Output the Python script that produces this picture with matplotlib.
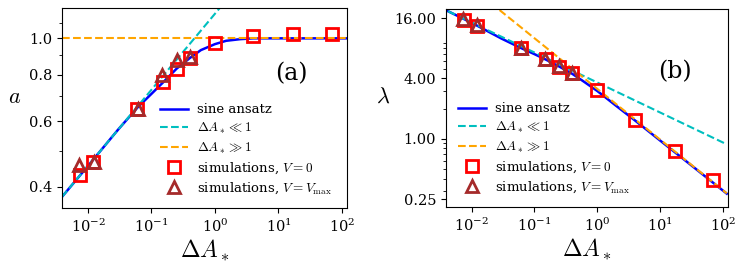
import matplotlib
matplotlib.use('Agg')
import matplotlib.pyplot as plt
from matplotlib.ticker import FixedLocator, NullFormatter, FormatStrFormatter

plt.rcParams['font.family'] = 'serif'
plt.rcParams['font.serif'] = ['DejaVu Serif']
plt.rcParams['mathtext.fontset'] = 'cm'

# simulation points (shared x)
dA_sim = [0.0075, 0.012, 0.06, 0.15, 0.25, 0.40, 1.0, 4.0, 17.0, 70.0]
dA_tri = [0.0073, 0.0123, 0.061, 0.148, 0.25, 0.40]

# panel (a): amplitude a
a_sq = [0.43, 0.467, 0.646, 0.765, 0.827, 0.884, 0.97, 1.014, 1.025, 1.03]
a_tri = [0.459, 0.467, 0.648, 0.797, 0.875, 0.893]
a_sine_x = [0.0039, 0.01, 0.03, 0.06, 0.1, 0.15, 0.25, 0.4, 0.6, 1.0, 1.5, 2.5, 4.0, 10.0, 120.0]
a_sine_y = [0.376, 0.455, 0.57, 0.652, 0.71, 0.76, 0.83, 0.885, 0.93, 0.965, 0.985, 0.995, 1.0, 1.0, 1.0]
a_small_x = [0.0039, 1.19]
a_small_y = [0.376, 1.206]
a_large_x = [0.0039, 120.0]
a_large_y = [1.0, 1.0]

# panel (b): wavelength lambda
lam_sq = [15.4, 13.4, 8.1, 6.2, 5.23, 4.5, 3.05, 1.55, 0.76, 0.385]
lam_tri = [15.6, 13.6, 8.1, 6.3, 5.3, 4.5]
lam_sine_x = [0.0042, 0.01, 0.03, 0.06, 0.1, 0.15, 0.25, 0.4, 0.6, 1.0, 2.0, 4.0, 10.0, 30.0, 115.0]
lam_sine_y = [18.8, 14.4, 10.0, 8.1, 7.0, 6.2, 5.25, 4.45, 3.75, 3.0, 2.13, 1.52, 0.96, 0.555, 0.283]
lam_small_x = [0.0042, 115.0]
lam_small_y = [18.8, 0.88]
lam_large_x = [0.0278, 115.0]
lam_large_y = [19.3, 0.285]

fig = plt.figure(figsize=(7.47, 2.71), dpi=100)
axa = fig.add_axes([0.083, 0.2325, 0.3815, 0.738])
axb = fig.add_axes([0.597, 0.236, 0.3775, 0.731])


def draw(ax, sx, sy, cx, cy, ox, oy, sq, tri):
    ax.plot(sx, sy, '-', color='blue', lw=1.8, label='sine ansatz')
    ax.plot(cx, cy, '--', color='c', lw=1.5, label=r'$\Delta A_* \ll 1$')
    ax.plot(ox, oy, '--', color='orange', lw=1.5, label=r'$\Delta A_* \gg 1$')
    ax.plot(dA_sim, sq, 's', ms=9, mfc='none', mec='red', mew=2,
            label=r'simulations, $V = 0$')
    ax.plot(dA_tri, tri, '^', ms=9, mfc='none', mec='brown', mew=2,
            label=r'simulations, $V = V_{\rm max}$')
    ax.set_xscale('log')
    ax.set_yscale('log')
    ax.set_xlim(0.0039, 120)
    ax.set_xticks([1e-2, 1e-1, 1e0, 1e1, 1e2])
    ax.xaxis.set_minor_locator(FixedLocator([]))
    ax.tick_params(labelsize=10.5)
    ax.set_xlabel(r'$\Delta A_*$', fontsize=17, labelpad=2)


draw(axa, a_sine_x, a_sine_y, a_small_x, a_small_y, a_large_x, a_large_y, a_sq, a_tri)
axa.set_ylim(0.351, 1.206)
axa.yaxis.set_major_locator(FixedLocator([0.4, 0.6, 0.8, 1.0]))
axa.yaxis.set_minor_locator(FixedLocator([0.5, 0.7, 0.9, 1.1]))
axa.yaxis.set_major_formatter(FormatStrFormatter('%.1f'))
axa.yaxis.set_minor_formatter(NullFormatter())
axa.set_ylabel(r'$a$', fontsize=16, rotation=0, labelpad=10)
axa.text(0.806, 0.673, '(a)', transform=axa.transAxes, fontsize=17,
         ha='center', va='center')
axa.legend(loc='lower right', bbox_to_anchor=(0.99, 0.0), frameon=False,
           fontsize=9.5, handlelength=2.1, handletextpad=0.7, labelspacing=0.35)

draw(axb, lam_sine_x, lam_sine_y, lam_small_x, lam_small_y, lam_large_x, lam_large_y, lam_sq, lam_tri)
axb.set_ylim(0.208, 19.8)
axb.yaxis.set_major_locator(FixedLocator([0.25, 1.0, 4.0, 16.0]))
axb.yaxis.set_major_formatter(FormatStrFormatter('%.2f'))
axb.yaxis.set_minor_formatter(NullFormatter())
axb.set_ylabel(r'$\lambda$', fontsize=16, rotation=0, labelpad=8)
axb.text(0.812, 0.683, '(b)', transform=axb.transAxes, fontsize=17,
         ha='center', va='center')
axb.legend(loc='lower left', bbox_to_anchor=(0.0, 0.0), frameon=False,
           fontsize=9.5, handlelength=2.1, handletextpad=0.7, labelspacing=0.35)

fig.savefig('out.png', dpi=100)
